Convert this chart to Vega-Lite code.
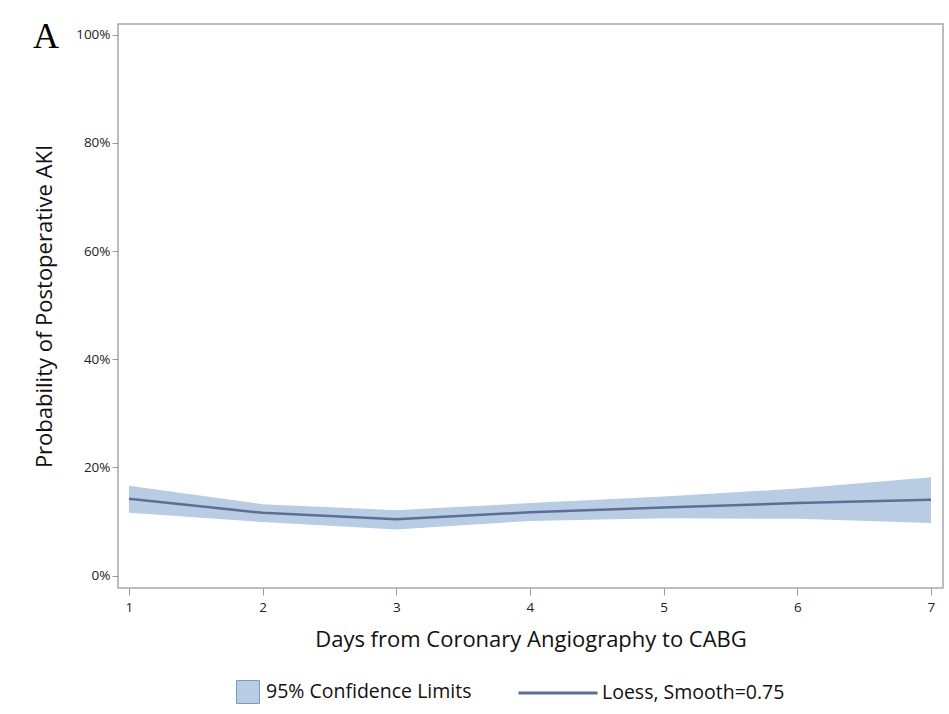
{
  "$schema": "https://vega.github.io/schema/vega-lite/v6.json",
  "autosize": "none",
  "width": 825,
  "height": 564,
  "padding": {"left": 118, "top": 24, "right": 6, "bottom": 126},
  "background": "white",
  "title": {
    "text": "A",
    "anchor": "start",
    "frame": "group",
    "font": "Liberation Serif",
    "fontSize": 36,
    "fontWeight": "normal",
    "color": "#000000",
    "offset": -30,
    "dx": -85,
    "dy": 2
  },
  "config": {
    "view": {"stroke": "#a8a8a8", "strokeWidth": 1.5},
    "font": "Open Sans",
    "axis": {
      "grid": false,
      "domain": false,
      "tickColor": "#9a9a9a",
      "labelColor": "#222222",
      "labelFont": "Open Sans",
      "labelFontSize": 13.5,
      "titleFont": "Open Sans",
      "titleFontSize": 22,
      "titleFontWeight": "normal",
      "titleColor": "#111111"
    }
  },
  "data": {
    "values": [
      {"Day": 1, "Lower": 0.116, "Upper": 0.166, "Fit": 0.142},
      {"Day": 2, "Lower": 0.099, "Upper": 0.132, "Fit": 0.116},
      {"Day": 3, "Lower": 0.085, "Upper": 0.121, "Fit": 0.104},
      {"Day": 4, "Lower": 0.101, "Upper": 0.134, "Fit": 0.117},
      {"Day": 5, "Lower": 0.106, "Upper": 0.146, "Fit": 0.126},
      {"Day": 6, "Lower": 0.105, "Upper": 0.161, "Fit": 0.134},
      {"Day": 7, "Lower": 0.097, "Upper": 0.182, "Fit": 0.140}
    ]
  },
  "layer": [
    {
      "mark": {"type": "area", "opacity": 1},
      "encoding": {
        "x": {
          "field": "Day",
          "type": "quantitative",
          "scale": {"domain": [0.918, 7.09], "nice": false, "zero": false},
          "axis": {
            "values": [1, 2, 3, 4, 5, 6, 7],
            "format": "d",
            "tickSize": 7,
            "labelPadding": 5,
            "title": "Days from Coronary Angiography to CABG",
            "titlePadding": 16
          }
        },
        "y": {
          "field": "Lower",
          "type": "quantitative",
          "scale": {"domain": [-0.023, 1.02], "nice": false, "zero": false},
          "axis": {
            "values": [0, 0.2, 0.4, 0.6, 0.8, 1],
            "format": ".0%",
            "tickSize": 6,
            "labelPadding": 2,
            "title": "Probability of Postoperative AKI",
            "titlePadding": 19
          }
        },
        "y2": {"field": "Upper"},
        "fill": {
          "datum": "95% Confidence Limits",
          "type": "nominal",
          "scale": {"range": ["#b8cce4"]},
          "legend": {
            "orient": "none",
            "legendX": 118,
            "legendY": 656,
            "title": null,
            "symbolType": "square",
            "symbolSize": 529,
            "symbolStrokeColor": "#7d99c2",
            "symbolStrokeWidth": 1,
            "symbolOpacity": 1,
            "labelFont": "Open Sans",
            "labelFontSize": 19.5,
            "labelLimit": 400,
            "labelColor": "#111111",
            "labelOffset": 6
          }
        }
      }
    },
    {
      "mark": {"type": "line", "strokeWidth": 2.5},
      "encoding": {
        "x": {"field": "Day", "type": "quantitative"},
        "y": {"field": "Fit", "type": "quantitative"},
        "stroke": {
          "datum": "Loess, Smooth=0.75",
          "type": "nominal",
          "scale": {"range": ["#5b6f95"]},
          "legend": {
            "orient": "none",
            "legendX": 399,
            "legendY": 628,
            "title": null,
            "symbolType": "stroke",
            "symbolSize": 6241,
            "symbolStrokeWidth": 3,
            "labelFont": "Open Sans",
            "labelFontSize": 19.5,
            "labelLimit": 400,
            "labelColor": "#111111",
            "labelOffset": 3
          }
        }
      }
    }
  ],
  "resolve": {"scale": {"fill": "independent", "stroke": "independent"}}
}
